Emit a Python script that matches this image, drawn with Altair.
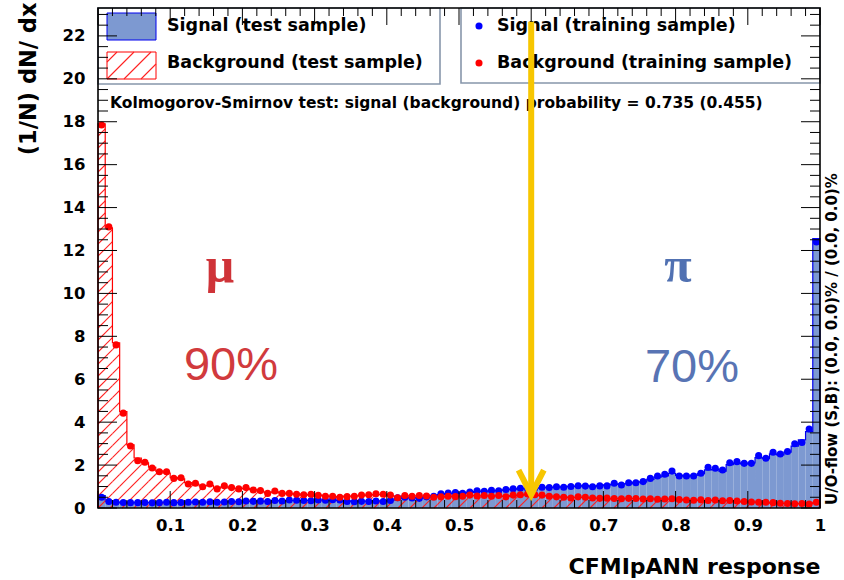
import altair as alt
import numpy as np
import pandas as pd

# ---------------------------------------------------------------- data
N_BINS = 100
X_TICK_LABELS = [0.1, 0.2, 0.3, 0.4, 0.5, 0.6, 0.7, 0.8, 0.9, 1.0]
Y_TICK_LABELS = [0, 2, 4, 6, 8, 10, 12, 14, 16, 18, 20, 22]

sig_test = [0.58, 0.32, 0.25, 0.27, 0.24, 0.26, 0.25, 0.25, 0.26, 0.26,
            0.26, 0.25, 0.28, 0.27, 0.28, 0.28, 0.28, 0.29, 0.29, 0.30,
            0.31, 0.32, 0.31, 0.32, 0.33, 0.34, 0.35, 0.35, 0.36, 0.36,
            0.36, 0.37, 0.37, 0.36, 0.33, 0.31, 0.32, 0.32, 0.32, 0.33,
            0.36, 0.44, 0.47, 0.48, 0.47, 0.52, 0.57, 0.62, 0.67, 0.69,
            0.70, 0.73, 0.77, 0.79, 0.80, 0.82, 0.85, 0.88, 0.90, 0.91,
            0.93, 0.95, 0.96, 0.97, 0.99, 1.01, 1.02, 1.04, 1.01, 1.04,
            1.08, 1.10, 1.12, 1.14, 1.20, 1.22, 1.33, 1.44, 1.50, 1.62,
            1.52, 1.48, 1.52, 1.60, 1.78, 1.80, 1.72, 2.02, 2.10, 2.05,
            2.10, 2.35, 2.30, 2.52, 2.48, 2.60, 2.88, 3.17, 3.56, 12.55]

bkg_test = [17.90, 13.05, 7.70, 4.49, 2.94, 2.33, 2.10, 1.90, 1.72, 1.63,
            1.42, 1.36, 1.18, 1.10, 1.03, 1.06, 0.93, 0.98, 0.92, 0.90,
            0.91, 0.86, 0.78, 0.72, 0.75, 0.70, 0.66, 0.66, 0.60, 0.62,
            0.60, 0.57, 0.53, 0.52, 0.55, 0.56, 0.58, 0.60, 0.63, 0.62,
            0.58, 0.52, 0.56, 0.57, 0.56, 0.55, 0.52, 0.54, 0.53, 0.55,
            0.56, 0.58, 0.57, 0.56, 0.57, 0.56, 0.54, 0.58, 0.60, 0.62,
            0.60, 0.58, 0.56, 0.53, 0.51, 0.49, 0.50, 0.49, 0.46, 0.45,
            0.45, 0.44, 0.44, 0.44, 0.43, 0.43, 0.42, 0.42, 0.41, 0.41,
            0.39, 0.37, 0.37, 0.36, 0.36, 0.35, 0.34, 0.34, 0.31, 0.29,
            0.28, 0.27, 0.26, 0.23, 0.22, 0.21, 0.20, 0.20, 0.20, 0.26]

sig_train = [0.50, 0.30, 0.27, 0.26, 0.25, 0.25, 0.26, 0.24, 0.25, 0.27,
             0.25, 0.26, 0.27, 0.28, 0.27, 0.29, 0.27, 0.28, 0.30, 0.29,
             0.33, 0.31, 0.32, 0.30, 0.35, 0.33, 0.37, 0.36, 0.35, 0.34,
             0.37, 0.36, 0.39, 0.37, 0.30, 0.29, 0.31, 0.30, 0.33, 0.30,
             0.35, 0.48, 0.50, 0.47, 0.45, 0.52, 0.55, 0.66, 0.70, 0.72,
             0.68, 0.74, 0.80, 0.78, 0.82, 0.80, 0.86, 0.90, 0.92, 0.90,
             0.93, 0.97, 0.95, 0.99, 0.97, 1.00, 1.04, 1.02, 0.99, 1.03,
             1.03, 1.15, 1.07, 1.18, 1.18, 1.23, 1.38, 1.49, 1.57, 1.72,
             1.49, 1.49, 1.49, 1.62, 1.90, 1.85, 1.77, 2.11, 2.16, 2.08,
             2.08, 2.44, 2.32, 2.60, 2.52, 2.63, 2.99, 3.05, 3.68, 12.40]

bkg_train = [17.85, 13.10, 7.60, 4.42, 2.89, 2.20, 2.13, 1.86, 1.69, 1.69,
             1.38, 1.41, 1.12, 1.15, 0.99, 1.12, 0.89, 1.04, 0.95, 0.89,
             0.95, 0.84, 0.81, 0.68, 0.79, 0.68, 0.68, 0.64, 0.62, 0.64,
             0.59, 0.55, 0.55, 0.50, 0.53, 0.55, 0.60, 0.62, 0.66, 0.64,
             0.60, 0.48, 0.58, 0.55, 0.58, 0.56, 0.50, 0.52, 0.55, 0.53,
             0.55, 0.60, 0.56, 0.58, 0.55, 0.58, 0.52, 0.60, 0.62, 0.65,
             0.62, 0.60, 0.55, 0.52, 0.50, 0.47, 0.52, 0.50, 0.47, 0.45,
             0.46, 0.44, 0.43, 0.45, 0.44, 0.42, 0.43, 0.41, 0.42, 0.43,
             0.40, 0.37, 0.36, 0.38, 0.35, 0.37, 0.34, 0.35, 0.33, 0.30,
             0.28, 0.27, 0.27, 0.25, 0.22, 0.21, 0.20, 0.21, 0.19, 0.27]

ks_signal, ks_background = 0.735, 0.455
cut_value = 0.60

# ---------------------------------------------------------------- layout / style
W, H = 722, 500
YMAX = 23.3
FONT = "DejaVu Sans"
SIG_FILL, SIG_LINE = "#7d99d1", "#0000ee"
BKG_LINE = "#ff0000"
HATCH = "#ff2020"
ARROW = "#f7c600"
PT_SIZE = 50

edges = [i / N_BINS for i in range(N_BINS)]
bin_w = 1.0 / N_BINS

xs = alt.Scale(domain=[0, 1], nice=False, zero=False)
ys = alt.Scale(domain=[0, YMAX], nice=False)

x_axis = alt.Axis(values=X_TICK_LABELS, format=".1~f", labelFont=FONT,
                  labelFontSize=16.5, labelFontWeight="bold", labelColor="black",
                  labelFlush=False, labelOverlap=False, ticks=False, tickSize=0,
                  domain=False, grid=False, labelPadding=9,
                  title="CFMIpANN response", titleFont=FONT, titleFontSize=22,
                  titleFontWeight="bold", titleColor="black", titleX=W, titleY=58,
                  titleAlign="right", titleBaseline="middle")
y_axis = alt.Axis(values=Y_TICK_LABELS, labelFont=FONT, labelFontSize=16.5,
                  labelFontWeight="bold", labelColor="black", ticks=False,
                  tickSize=0, domain=False, grid=False, labelPadding=13,
                  labelOverlap=False,
                  title="(1/N) dN/ dx", titleFont=FONT, titleFontSize=22.5,
                  titleFontWeight="bold", titleColor="black", titleAngle=270,
                  titleAlign="right", titleBaseline="middle", titleX=-70, titleY=-6)


def X(field):
    return alt.X(field, type="quantitative", scale=xs, axis=x_axis)


def Y(field):
    return alt.Y(field, type="quantitative", scale=ys, axis=y_axis)


def step_frame(values):
    xs_ = [0.0] + edges + [1.0, 1.0]
    ys_ = [0.0] + list(values) + [values[-1], 0.0]
    return pd.DataFrame({"x": xs_, "v": ys_, "i": range(len(xs_))})


# ---------------------------------------------------------------- histograms
sig_df = step_frame(sig_test)
sig_area = alt.Chart(sig_df).mark_area(interpolate="step-after", color=SIG_FILL,
                                       opacity=1).encode(
    x=X("x"), y=Y("v"), order=alt.Order("i:Q"))
sig_line = alt.Chart(sig_df).mark_line(interpolate="step-after", color=SIG_LINE,
                                       strokeWidth=1.2).encode(
    x=X("x"), y=Y("v"), order=alt.Order("i:Q"))

# 45-degree hatching of the background histogram, clipped bin by bin
px_per_y = H / YMAX
spacing = 12.0
segs = []
for i, v in enumerate(bkg_test):
    a, b, h = edges[i] * W, (edges[i] + bin_w) * W, v * px_per_y
    for k in range(int(np.floor((a - h) / spacing)) - 1, int(np.ceil(b / spacing)) + 1):
        c = k * spacing
        p0, p1 = max(a, c), min(b, c + h)
        if p1 > p0:
            segs.append({"x": p0 / W, "x2": p1 / W,
                         "y": (p0 - c) / px_per_y, "y2": (p1 - c) / px_per_y})
hatch = alt.Chart(pd.DataFrame(segs)).mark_rule(strokeWidth=1.1).encode(
    x=X("x"), x2="x2", y=Y("y"), y2="y2", stroke=alt.value(HATCH))

bkg_df = step_frame(bkg_test)
bkg_line = alt.Chart(bkg_df).mark_line(interpolate="step-after", color=BKG_LINE,
                                       strokeWidth=1.2).encode(
    x=X("x"), y=Y("v"), order=alt.Order("i:Q"))

# ---------------------------------------------------------------- training points
centers = [e + bin_w / 2 for e in edges]
sig_pts = alt.Chart(pd.DataFrame({"x": centers, "v": sig_train})).mark_circle(
    size=PT_SIZE, color="#0000ff", opacity=1).encode(x=X("x"), y=Y("v"))
bkg_pts = alt.Chart(pd.DataFrame({"x": centers, "v": bkg_train})).mark_circle(
    size=PT_SIZE, color="#ff0000", opacity=1).encode(x=X("x"), y=Y("v"))

# ---------------------------------------------------------------- legend
one = pd.DataFrame({"k": [0]})


def box(x0, x1, y0, y1, **kw):
    return alt.Chart(one).mark_rect(**kw).encode(
        x=alt.value(x0), x2=alt.value(x1), y=alt.value(y0), y2=alt.value(y1))


def label(text, x, y, size, **kw):
    base = dict(font=FONT, fontSize=size, fontWeight="bold", color="black",
                align="left", baseline="middle")
    base.update(kw)
    return alt.Chart(one).mark_text(text=text, **base).encode(
        x=alt.value(x), y=alt.value(y))


leg_box1 = box(0, 342, 0, 76, fill="white", stroke="#8796ab", strokeWidth=1.6)
leg_box2 = box(363, W, 0, 75, fill="white", stroke="#8796ab", strokeWidth=1.6)
leg_sig = box(9, 58, 5, 32, fill=SIG_FILL, stroke=SIG_LINE, strokeWidth=1)
leg_bkg = box(9, 58, 44, 71, fill="white", stroke=BKG_LINE, strokeWidth=1)

# hatching inside the background legend swatch (pixel coordinates)
lrows = []
lx0, lx1, ly0, ly1 = 9, 58, 44, 71
for k in range(-3, 5):
    c = lx0 + k * 17.0
    p0, p1 = max(lx0, c), min(lx1, c + (ly1 - ly0))
    if p1 > p0:
        lrows.append({"s": k, "o": 0, "px": p0, "py": ly1 - (p0 - c)})
        lrows.append({"s": k, "o": 1, "px": p1, "py": ly1 - (p1 - c)})
leg_hatch = alt.Chart(pd.DataFrame(lrows)).mark_line(
    stroke=HATCH, strokeWidth=1.1).encode(
    x=alt.X("px:Q", scale=None), y=alt.Y("py:Q", scale=None),
    detail="s:N", order=alt.Order("o:Q"))

leg_dot_s = alt.Chart(one).mark_circle(size=PT_SIZE, color="#0000ff", opacity=1).encode(
    x=alt.value(381), y=alt.value(18))
leg_dot_b = alt.Chart(one).mark_circle(size=PT_SIZE, color="#ff0000", opacity=1).encode(
    x=alt.value(381), y=alt.value(55))

leg_texts = [
    label("Signal (test sample)", 69, 18, 17.5),
    label("Background (test sample)", 69, 55, 17.5),
    label("Signal (training sample)", 399, 18, 17.5),
    label("Background (training sample)", 399, 55, 17.5),
    label(f"Kolmogorov-Smirnov test: signal (background) probability = "
          f"{ks_signal:.3f} ({ks_background:.3f})", 12, 95, 15.5),
]

# ---------------------------------------------------------------- frame and inward ticks
x_major = [i / 10 for i in range(11)]
x_minor = [i / 50 for i in range(51) if i % 5]
y_major = [2 * i for i in range(12)]
y_minor = [i / 2 for i in range(47) if i % 4]


def xticks(vals, length):
    d = pd.DataFrame({"t": vals})
    bottom = alt.Chart(d).mark_rule(color="black", strokeWidth=1).encode(
        x=X("t"), y=alt.value(H), y2=alt.value(H - length))
    top = alt.Chart(d).mark_rule(color="black", strokeWidth=1).encode(
        x=X("t"), y=alt.value(0), y2=alt.value(length))
    return [bottom, top]


def yticks(vals, length):
    d = pd.DataFrame({"t": vals})
    left = alt.Chart(d).mark_rule(color="black", strokeWidth=1).encode(
        y=Y("t"), x=alt.value(0), x2=alt.value(length))
    right = alt.Chart(d).mark_rule(color="black", strokeWidth=1).encode(
        y=Y("t"), x=alt.value(W), x2=alt.value(W - length))
    return [left, right]


ticks = xticks(x_major, 17) + xticks(x_minor, 8) + yticks(y_major, 19) + yticks(y_minor, 10)
frame = box(0, W, 0, H, fillOpacity=0, stroke="black", strokeWidth=1.6)

# ---------------------------------------------------------------- cut arrow
shaft = alt.Chart(pd.DataFrame({"x": [cut_value], "y": [22.66], "y2": [0.75]})).mark_rule(
    color=ARROW, strokeWidth=6).encode(x=X("x"), y=Y("y"), y2="y2")
head = alt.Chart(pd.DataFrame({"x": [cut_value - 0.0175, cut_value, cut_value + 0.0175],
                               "y": [1.77, 0.62, 1.77], "i": [0, 1, 2]})).mark_line(
    color=ARROW, strokeWidth=6, strokeJoin="miter").encode(
    x=X("x"), y=Y("y"), order=alt.Order("i:Q"))

# ---------------------------------------------------------------- annotations
notes = [
    label("μ", 122, 274, 50, font="Liberation Serif", color="#cf3338",
          align="center", baseline="alphabetic"),
    label("90%", 133, 372, 47, font="Liberation Sans", fontWeight="normal",
          color="#d13a3d", align="center", baseline="alphabetic"),
    label("π", 580, 274, 50, font="Liberation Serif", color="#5171b2",
          align="center", baseline="alphabetic"),
    label("70%", 594, 374, 47, font="Liberation Sans", fontWeight="normal",
          color="#5874b4", align="center", baseline="alphabetic"),
    label("U/O-flow (S,B): (0.0, 0.0)% / (0.0, 0.0)%", 734, 497, 15, angle=270),
]

layers = ([sig_area, sig_line, hatch, bkg_line, sig_pts, bkg_pts,
           leg_box1, leg_box2, leg_sig, leg_bkg, leg_hatch,
           leg_dot_s, leg_dot_b] + leg_texts + ticks + [frame, shaft, head] + notes)

chart = alt.layer(*layers).properties(
    width=W, height=H,
    padding={"left": 98, "top": 8, "right": 24, "bottom": 72},
    autosize=alt.AutoSizeParams(type="none"),
    background="white",
).configure_view(stroke="transparent")

chart.save("out.html", embed_options={"renderer": "svg", "actions": False})
